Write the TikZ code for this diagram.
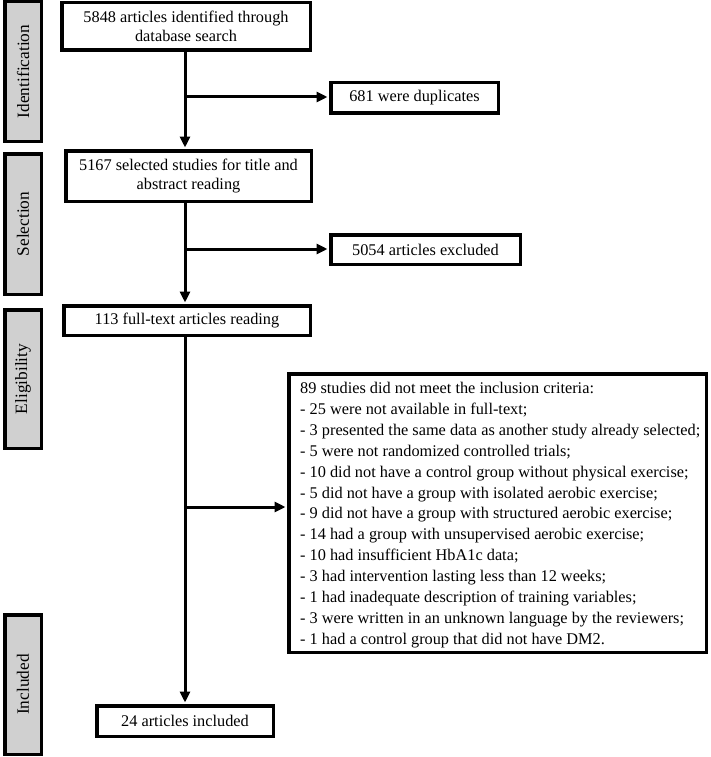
\documentclass[tikz,border=0pt]{standalone}
\usepackage{fontspec}
\setmainfont{Liberation Serif}
\usetikzlibrary{arrows.meta,calc}
\definecolor{sidegray}{RGB}{208,208,208}
\tikzset{
  sidebar/.style={draw=black, line width=3.5pt, fill=sidegray, rotate=90,
    minimum height=36.5pt, inner sep=0pt, font=\fontsize{17.3}{20}\selectfont},
  flowbox/.style={draw=black, line width=3.5pt, fill=white, inner sep=0pt,
    align=center, font=\fontsize{16.3}{18.5}\selectfont},
  flowarrow/.style={line width=3pt, -{Triangle[length=11pt,width=10pt]}, shorten >=1.5pt},
  flowline/.style={line width=3pt}
}
\begin{document}
\begin{tikzpicture}[x=1pt,y=-1pt]
\useasboundingbox (0,0) rectangle (711,757);
% side bars
\node[sidebar, minimum width=139.5pt] (sid) at (23,71.5) {Identification};
\node[sidebar, minimum width=140.5pt] (sse) at (23,224) {Selection};
\node[sidebar, minimum width=138.5pt] (sel) at (23,379) {Eligibility};
\node[sidebar, minimum width=139.5pt] (sin) at (23,684.5) {Included};
% boxes
\node[flowbox, minimum width=248.5pt, minimum height=47.5pt] (b1) at (186,26.5)
  {5848 articles identified through\\database search};
\node[flowbox, minimum width=167.5pt, minimum height=30.5pt] (dup) at (414.5,98)
  {681 were duplicates};
\node[flowbox, minimum width=245.5pt, minimum height=50.5pt] (b2) at (188.5,176)
  {5167 selected studies for title and\\abstract reading};
\node[flowbox, minimum width=189.5pt, minimum height=29.5pt] (exc) at (425.5,249.5)
  {5054 articles excluded};
\node[flowbox, minimum width=246.5pt, minimum height=29.5pt] (b3) at (187,320.5)
  {113 full-text articles reading};
\node[flowbox, minimum width=417.5pt, minimum height=278.5pt] (big) at (497.5,513) {};
\node[anchor=north west, inner sep=0pt, align=left, font=\fontsize{16.3}{20.9}\selectfont] (bigtxt) at (300,382)
  {89 studies did not meet the inclusion criteria:\\
   - 25 were not available in full-text;\\
   - 3 presented the same data as another study already selected;\\
   - 5 were not randomized controlled trials;\\
   - 10 did not have a control group without physical exercise;\\
   - 5 did not have a group with isolated aerobic exercise;\\
   - 9 did not have a group with structured aerobic exercise;\\
   - 14 had a group with unsupervised aerobic exercise;\\
   - 10 had insufficient HbA1c data;\\
   - 3 had intervention lasting less than 12 weeks;\\
   - 1 had inadequate description of training variables;\\
   - 3 were written in an unknown language by the reviewers;\\
   - 1 had a control group that did not have DM2.};
\node[flowbox, minimum width=176.5pt, minimum height=30.5pt] (b4) at (185,721)
  {24 articles included};
% spine coordinates
\coordinate (j1) at (185,97);
\coordinate (j2) at (185,249);
\coordinate (j3) at (185,507);
% connectors
\draw[flowarrow] (b1.south -| j1) -- (b2.north -| j1);
\draw[flowarrow] (j1) -- (j1 -| dup.west);
\draw[flowarrow] (b2.south -| j2) -- (b3.north -| j2);
\draw[flowarrow] (j2) -- (j2 -| exc.west);
\draw[flowarrow] (b3.south -| j3) -- (b4.north -| j3);
\draw[flowarrow] (j3) -- (j3 -| big.west);
\end{tikzpicture}
\end{document}
